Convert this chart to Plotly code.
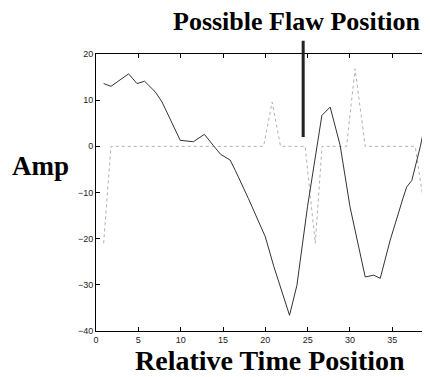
import plotly.graph_objects as go

# Dark (solid) trace: relative time position vs amplitude
dark_x = [0.9, 1.77, 3.85, 4.84, 5.74, 7.0, 7.8, 9.95, 11.5, 12.8, 13.85, 14.7, 15.85,
          16.45, 18.0, 20.0, 21.0, 22.0, 22.86, 23.73, 24.98, 26.68, 27.66, 28.84, 30.0,
          31.8, 32.8, 33.57, 34.75, 36.3, 36.7, 37.3, 38.3, 39.6]
dark_y = [13.6, 13.0, 15.7, 13.6, 14.1, 11.8, 9.6, 1.3, 1.0, 2.6, 0.2, -1.7, -3.0,
          -5.2, -11.3, -19.6, -26.0, -31.7, -36.6, -30.1, -13.1, 6.7, 8.5, 0.2, -13.1,
          -28.3, -27.9, -28.6, -20.3, -11.0, -8.8, -7.4, -0.1, 11.4]

# Dotted trace
dot_x = [0.9, 1.77, 19.8, 20.8, 21.8, 24.7, 25.9, 26.7, 29.6, 30.6, 31.8, 37.7, 38.6, 39.6]
dot_y = [-21, 0, 0, 9.6, 0, 0, -21, 0, 0, 16.8, 0, 0, -11, -1]

x_ticks = [0, 5, 10, 15, 20, 25, 30, 35, 40]
y_ticks = [-40, -30, -20, -10, 0, 10, 20]
x_range = [0, 39.45]
y_range = [-40, 20]

flaw_x = 24.47
flaw_y = [2.0, 23.2]

title_text = "Possible Flaw Position"
x_label = "Relative Time Position"
y_label = "Amp"

fig = go.Figure()
fig.add_trace(go.Scatter(x=dot_x, y=dot_y, mode="lines",
                         line=dict(color="#b0b0b0", width=1, dash="dot"), showlegend=False))
fig.add_trace(go.Scatter(x=dark_x, y=dark_y, mode="lines",
                         line=dict(color="#333333", width=1), showlegend=False))

def serif(size):
    return dict(family="Liberation Serif", size=size, color="black")

fig.add_annotation(x=flaw_x, y=flaw_y[0], ax=flaw_x, ay=flaw_y[1],
                   xref="x", yref="y", axref="x", ayref="y",
                   text="", showarrow=True, arrowhead=0, arrowwidth=3,
                   arrowcolor="#222222", standoff=0, startstandoff=0)

fig.add_annotation(text="<b>%s</b>" % title_text, xref="paper", yref="paper",
                   x=0.6003, y=1.119, xanchor="center", yanchor="middle",
                   showarrow=False, font=serif(26))
fig.add_annotation(text="<b>%s</b>" % y_label, xref="paper", yref="paper",
                   x=-0.1647, y=0.595, xanchor="center", yanchor="middle",
                   showarrow=False, font=serif(27))
fig.add_annotation(text="<b>%s</b>" % x_label, xref="paper", yref="paper",
                   x=0.521, y=-0.105, xanchor="center", yanchor="middle",
                   showarrow=False, font=serif(28))

tickfont = dict(family="Liberation Sans", size=9, color="#222222")
fig.update_xaxes(range=x_range, tickvals=x_ticks, ticks="inside", ticklen=4,
                 showline=True, linecolor="black", linewidth=1, mirror="ticks",
                 showgrid=False, zeroline=False, tickfont=tickfont, tickcolor="black")
fig.update_yaxes(range=y_range, tickvals=y_ticks, ticks="inside", ticklen=4,
                 showline=True, linecolor="black", linewidth=1, mirror="ticks",
                 showgrid=False, zeroline=False, tickfont=tickfont, tickcolor="black")

# The page body has an 8px margin, so the figure is sized to fit the window.
fig.update_layout(width=422, height=369, margin=dict(l=88, r=0, t=46, b=46),
                  plot_bgcolor="white", paper_bgcolor="white")

fig.write_html("out.html")
